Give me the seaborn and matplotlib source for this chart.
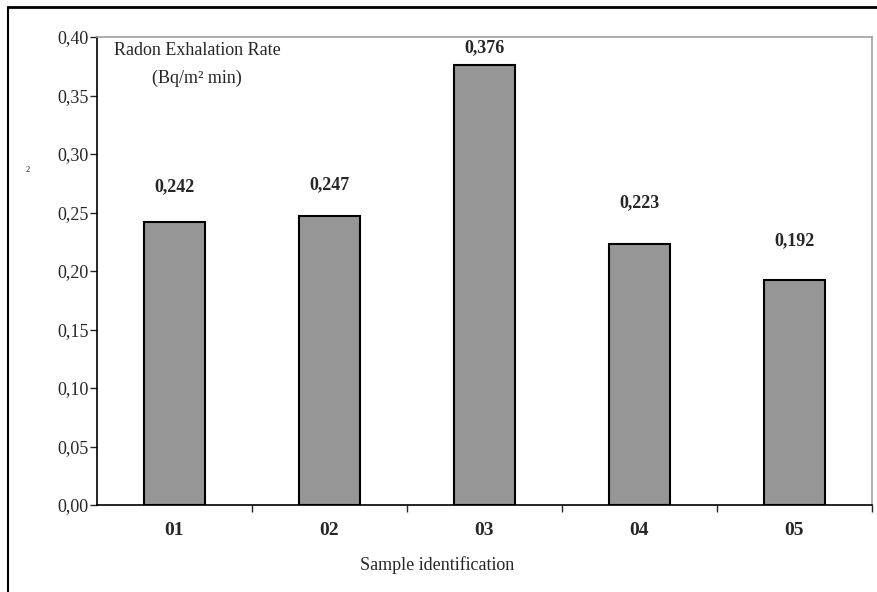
import matplotlib
matplotlib.use("Agg")
import matplotlib.pyplot as plt
from matplotlib.lines import Line2D
import pandas as pd
import seaborn as sns

# values
samples = ["01", "02", "03", "04", "05"]
exhalation = [0.242, 0.247, 0.376, 0.223, 0.192]
value_labels = ["0,242", "0,247", "0,376", "0,223", "0,192"]
label_heights = [0.272, 0.2735, 0.391, 0.258, 0.2256]
y_ticks = [0.00, 0.05, 0.10, 0.15, 0.20, 0.25, 0.30, 0.35, 0.40]

df = pd.DataFrame({"sample": samples, "rate": exhalation})

sns.set_style("white")
plt.rcParams["font.family"] = ["Liberation Serif", "DejaVu Serif"]

fig = plt.figure(figsize=(8.78, 5.92), dpi=100)
ax = fig.add_axes([97 / 878, 1 - 505 / 592, (872 - 97) / 878, (505 - 37) / 592])

sns.barplot(data=df, x="sample", y="rate", color="#969696", saturation=1,
            width=0.39, edgecolor="black", linewidth=1.5, ax=ax)

for i, (txt, h) in enumerate(zip(value_labels, label_heights)):
    ax.text(i, h, txt, ha="center", va="center", fontsize=13, fontweight="bold")

ax.set_ylim(0, 0.40)
ax.set_xlim(-0.5, len(samples) - 0.5)
ax.set_yticks(y_ticks)
ax.set_yticklabels([f"{v:.2f}".replace(".", ",") for v in y_ticks], fontsize=13)
ax.tick_params(axis="y", direction="out", length=5, width=1, pad=1, left=True)

# x ticks sit between categories, labels at the category centres
ax.set_xticks([i + 0.5 for i in range(len(samples))], minor=True)
ax.tick_params(axis="x", which="minor", direction="out", length=5, width=1, bottom=True)
ax.tick_params(axis="x", which="major", length=0, pad=12, labelsize=14)
for lab in ax.get_xticklabels():
    lab.set_fontweight("bold")

ax.set_xlabel("")
ax.set_ylabel("")

for side in ["left", "bottom"]:
    ax.spines[side].set_color("black")
    ax.spines[side].set_linewidth(1.2)
for side in ["top", "right"]:
    ax.spines[side].set_color("#a0a0a0")
    ax.spines[side].set_linewidth(1.2)

ax.text(0.129, 0.972, "Radon Exhalation Rate", fontsize=13, ha="center", va="center",
        transform=ax.transAxes)
ax.text(0.129, 0.912, "(Bq/m² min)", fontsize=13, ha="center", va="center",
        transform=ax.transAxes)

fig.text(437 / 878, 1 - 565 / 592, "Sample identification", fontsize=13,
         ha="center", va="center")
fig.text(28 / 878, 1 - 170 / 592, "2", fontsize=6, ha="center", va="center")

# outer frame of the original figure (top and left edges)
fig.add_artist(Line2D([8 / 878, 1], [1 - 7 / 592, 1 - 7 / 592], color="black", lw=2))
fig.add_artist(Line2D([8 / 878, 8 / 878], [0, 1 - 7 / 592], color="black", lw=1.5))

fig.savefig("out.png", dpi=100)
